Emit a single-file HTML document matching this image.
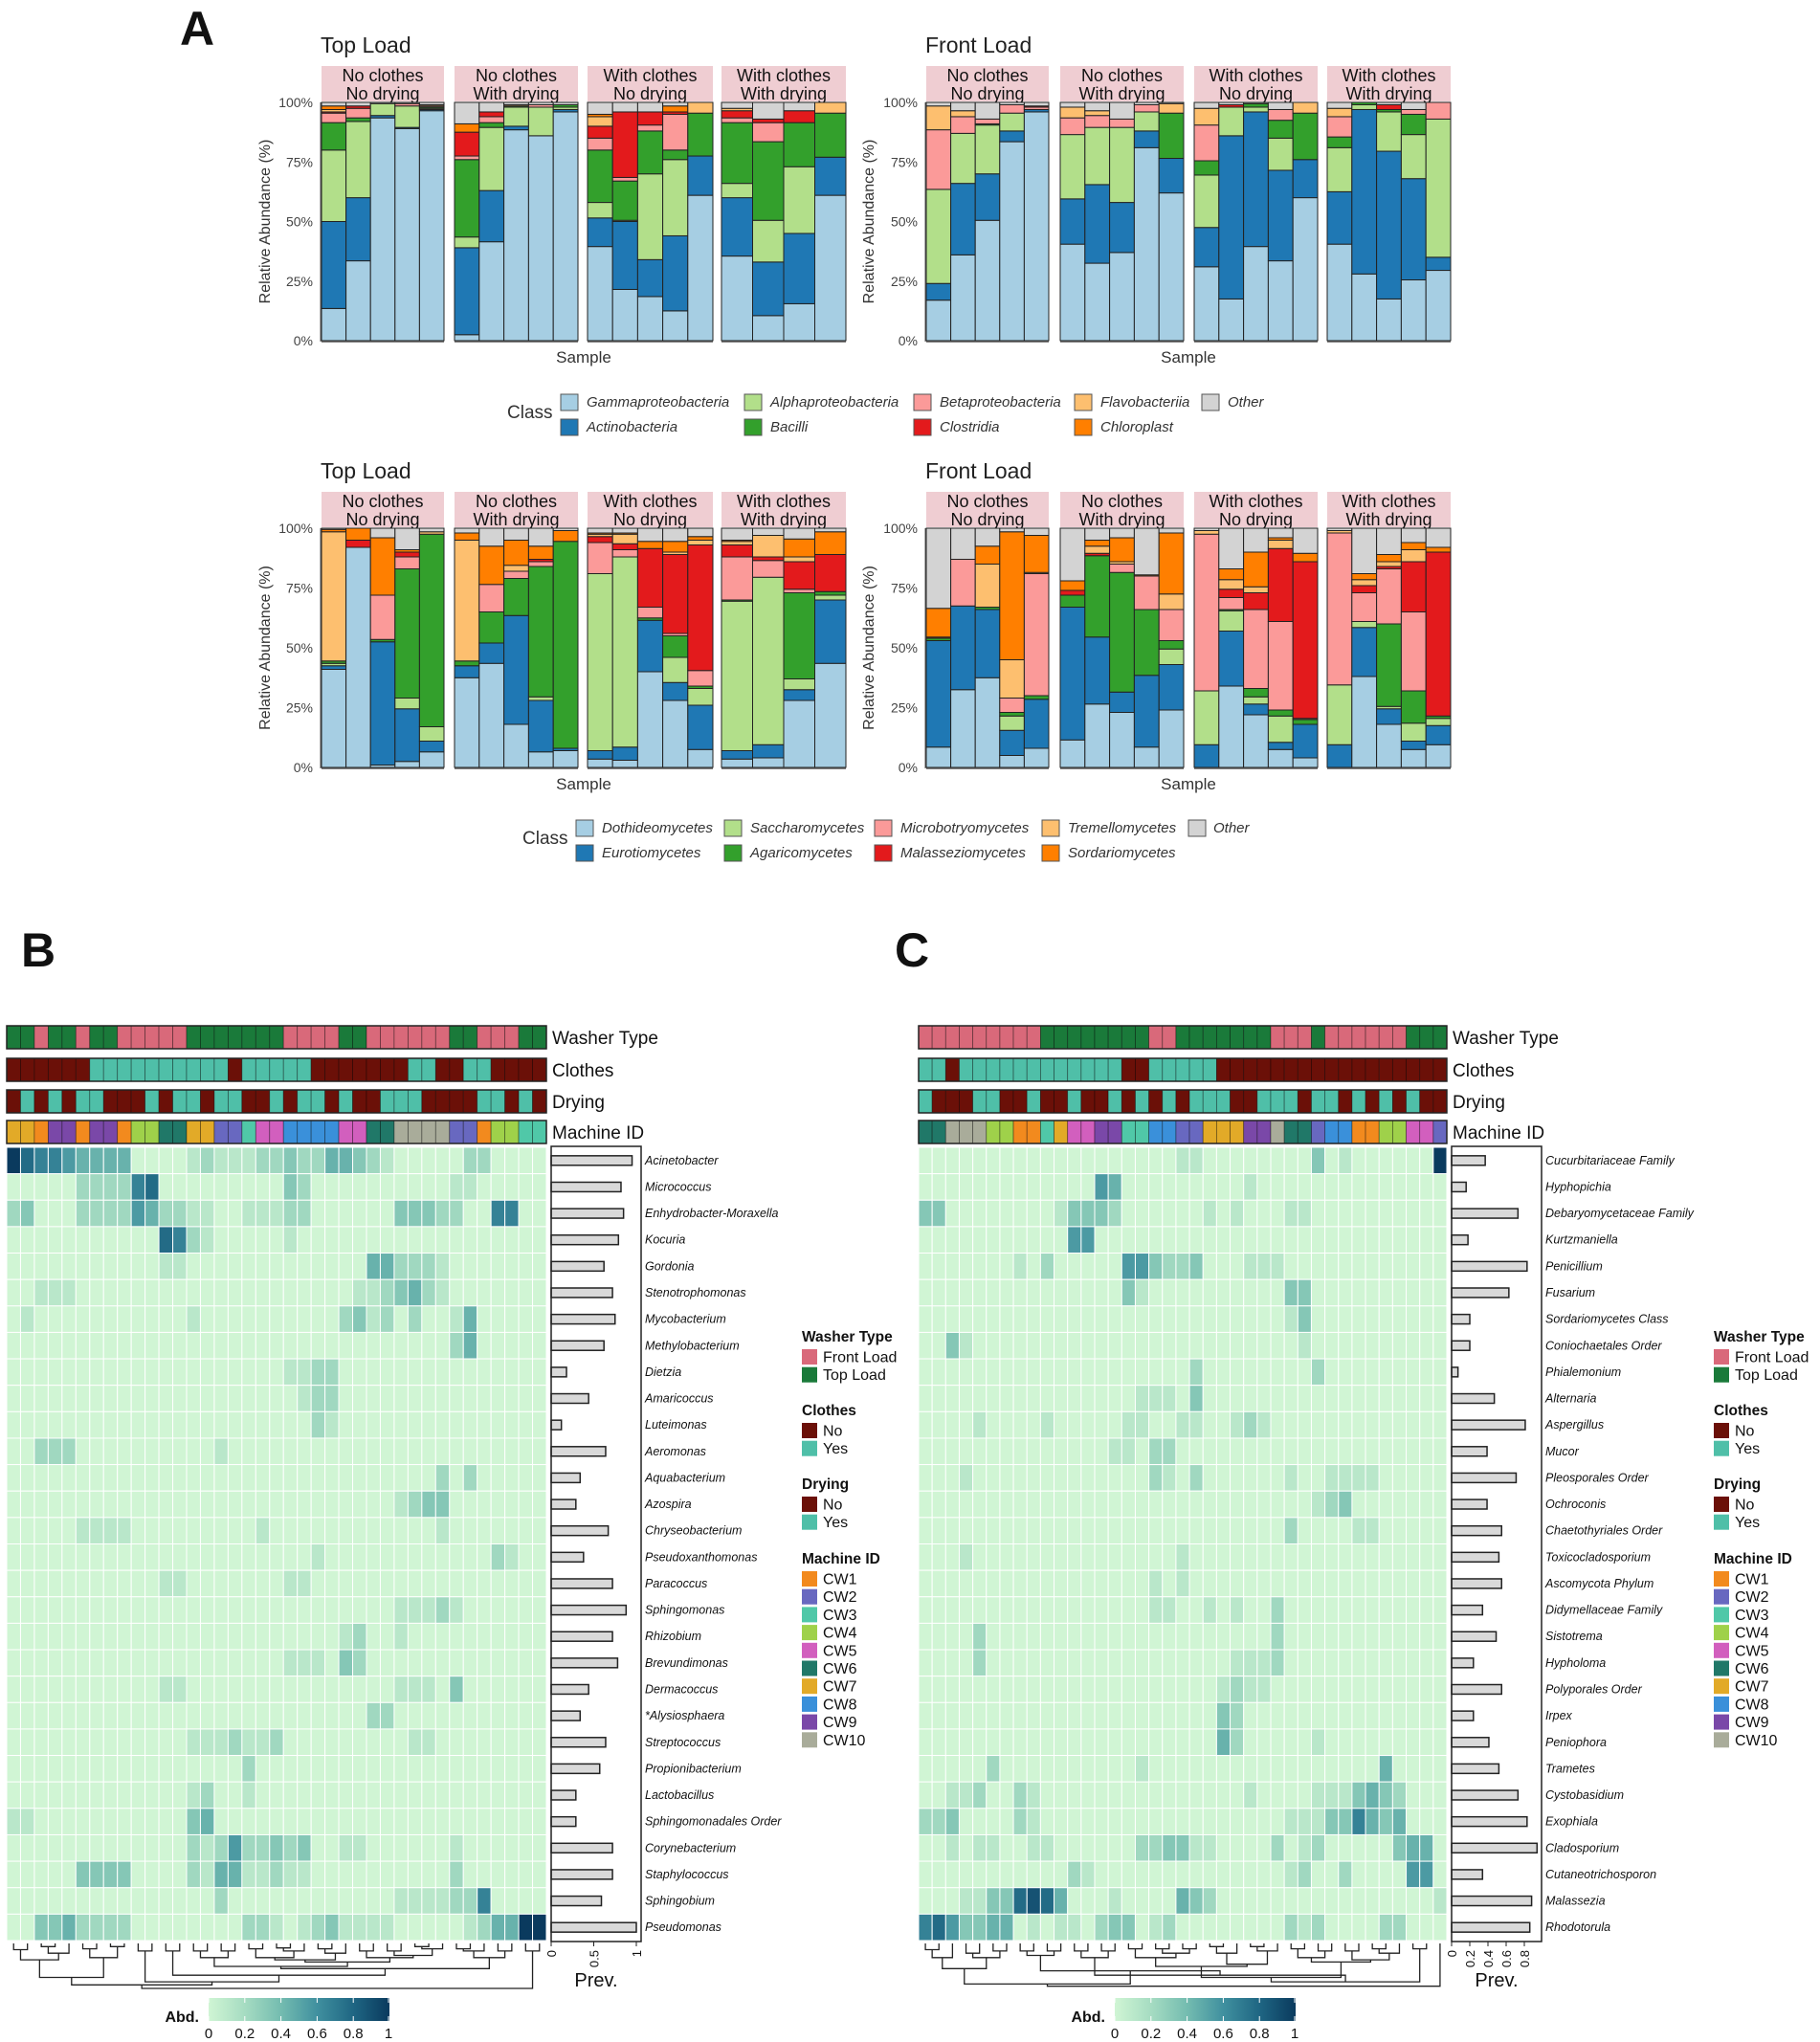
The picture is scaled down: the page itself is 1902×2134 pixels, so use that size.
<!DOCTYPE html>
<html><head><meta charset="utf-8"><style>
html,body{margin:0;padding:0;background:#fff;}
svg{display:block;font-family:"Liberation Sans",sans-serif;}
</style></head><body>
<svg id="fig" width="1902" height="2134" viewBox="0 0 1902 2134" xmlns="http://www.w3.org/2000/svg"></svg>
<script>
// ===== Panel A data (percent per class, bottom->top) =====
const bactClasses = ["Gammaproteobacteria","Actinobacteria","Alphaproteobacteria","Bacilli","Betaproteobacteria","Clostridia","Flavobacteriia","Chloroplast","Other"];
const fungiClasses = ["Dothideomycetes","Eurotiomycetes","Saccharomycetes","Agaricomycetes","Microbotryomycetes","Malasseziomycetes","Tremellomycetes","Sordariomycetes","Other"];
const classColors = ["#a6cee3","#1f78b4","#b2df8a","#33a02c","#fb9a99","#e31a1c","#fdbf6f","#ff7f00","#d3d3d3"];
const facetLabels = [["No clothes","No drying"],["No clothes","With drying"],["With clothes","No drying"],["With clothes","With drying"]];

const bactTop = [
 [[13.5,36.5,30,11.5,4,0.5,1,1.5,1.5],[33.5,26.5,32,1.5,4,1,0,0,1.5],[93.5,1,5,0,0,0,0,0,0.5],[89,0.5,9,0,1,0,0,0,0.5],[96.5,0.5,0.5,0.5,0.5,0,0.5,0,1]],
 [[2.5,36.5,4.5,32.5,1.5,10,0,3.5,9],[41.5,21.5,26.5,2,2.5,2,0,0,4],[88.5,1.5,8,0.5,0,0,0.5,0,1],[86,0,12,0,1,0,0,0,1],[96,1,1,1,0,0,0,0,1]],
 [[39.5,12,6.5,22,5,5,4,1,5],[21.5,28.5,0.5,16.5,1.5,27.5,0,0,4],[18.5,15.5,36,18,2.5,5.5,0,0,4],[12.5,31.5,32,4,15,1,0,2.5,1.5],[61,16.5,0,18,0,0,4.5,0,0]],
 [[35.5,24.5,6,25.5,2,3,1,0,2.5],[10.5,22.5,17.5,33,8,1.5,0,0,7],[15.5,29.5,28,18.5,0,5,0,0,3.5],[61,16,0,18.5,0,0,4.5,0,0]]
];
const bactFront = [
 [[17,7,39.5,0,25,0,10,0,1.5],[36,30,21,0,7,0,2.5,0,3.5],[50.5,19.5,20.5,0.5,2,0,0,0,7],[83.5,4.5,7.5,0,3.5,0,0,0,1],[96,1,0,0,1,0.5,0,0,1.5]],
 [[40.5,19,27,0,7,0,4.5,0,2],[32.5,33,24,0,5,0,2,0,3.5],[37,21,31.5,0,3.5,0,0,0,7],[81,7,8,0,3,0,0,0,1],[62,14.5,0,19,0,0,4,0,0.5]],
 [[31,16.5,22,6,15,0,7,0,2.5],[17.5,68.5,12,0,0,1,0,0,1],[39.5,56.5,2,1.5,0,0,0,0,0.5],[33.5,38,13.5,7.5,4.5,0,0,0,3],[60,16,0,19.5,0,0,4.5,0,0]],
 [[40.5,22,18.5,4.5,8.5,0,3.5,0,2.5],[28,69,2,1,0,0,0,0,0],[17.5,62,16.5,1,0,2,0,0,1],[25.5,42.5,18.5,8.5,2,0,0,0,3],[29.5,5.5,58,0,7,0,0,0,0]]
];
const fungiTop = [
 [[41,1.5,1,1,0,0,54,1,0.5],[92,0,0,0,0,3,0,5,0],[1,51.5,0,1,18.5,0,0,24,4],[2.5,22,4.5,54,5,2,0,1,9],[6.5,4.5,6,80.5,0,0,1,0,1.5]],
 [[37.5,5,0,2,0,0,50.5,3,2],[43.5,8.5,0,13,11.5,0,0,16,7.5],[18,45.5,0,15.5,3,0,2.5,10.5,5],[6.5,21.5,1.5,54.5,2,1,0,5.5,7.5],[7,1,0,86.5,0,0,0,4.5,1]],
 [[3.5,3.5,74,0,13,2.5,1,0.5,2],[3,5.5,79.5,0,3,2.5,4,0.5,2],[40,21.5,0,1,4.5,24.5,0,3,5.5],[28,7.5,10.5,9,1,33,1,4.5,5.5],[7.5,18.5,7,1,6.5,52.5,2,1.5,3.5]],
 [[3.5,3.5,62.5,0.5,18,5,1.5,0.5,5],[4,5.5,70,0,7,1.5,9,0,3],[28,4.5,4.5,36,1.5,11.5,2,7.5,4.5],[43.5,26.5,2,1.5,0,15.5,0,9.5,1.5]]
];
const fungiFront = [
 [[8.5,44.5,0,1,0,0.5,0,12,33.5],[32.5,35,0,0,19.5,0,0,0,13],[37.5,28.5,0,1,0,0,18,7.5,7.5],[5,10.5,6,1.5,6,0,16,53.5,1.5],[8,20.5,0,1.5,51,0,0.5,15.5,3]],
 [[11.5,55.5,0,5,0,2,0,4,22],[26.5,28,0,34,0,1,3,2.5,5],[23,8.5,0,50,3.5,0,1,10,4],[8.5,30,0,27.5,14,0,0,0.5,19.5],[24,19,6.5,3.5,13,0,6.5,25.5,2]],
 [[0,9.5,22.5,0,65.5,0,1.5,0,1],[34,23,8.5,0.5,5,3.5,4,4.5,17],[22,4.5,3,3.5,33,7,2.5,14.5,10],[7.5,3,11,2.5,37,30.5,3.5,1,4],[4,14,0,2,0.5,65.5,0,3.5,10.5]],
 [[0,9.5,25,0,63.5,0,1,0,1],[38,20.5,2.5,0,12,3,2.5,2.5,19],[18,6.5,1,34.5,23,1,2,3,11],[7.5,3.5,7.5,13.5,33,21,5,3,6],[9.5,8,3,1,0,68.5,0,2,8]]
];
const yTicks = [0,25,50,75,100];
const yTickLabels = ["0%","25%","50%","75%","100%"];

// ===== Heatmap B data =====
const bTaxa = ["Acinetobacter","Micrococcus","Enhydrobacter-Moraxella","Kocuria","Gordonia","Stenotrophomonas","Mycobacterium","Methylobacterium","Dietzia","Amaricoccus","Luteimonas","Aeromonas","Aquabacterium","Azospira","Chryseobacterium","Pseudoxanthomonas","Paracoccus","Sphingomonas","Rhizobium","Brevundimonas","Dermacoccus","*Alysiosphaera","Streptococcus","Propionibacterium","Lactobacillus","Sphingomonadales Order","Corynebacterium","Staphylococcus","Sphingobium","Pseudomonas"];
const bPrev = [0.95,0.82,0.85,0.79,0.62,0.72,0.75,0.62,0.18,0.44,0.12,0.64,0.34,0.29,0.67,0.38,0.72,0.88,0.72,0.78,0.44,0.34,0.64,0.57,0.29,0.29,0.72,0.72,0.59,1.0];
// sparse cells "col:level" (level 0-9, 9 = 1.0)
const bCells = [
 "0:9 1:7 2:6 3:6 4:5 5:4 6:4 7:4 8:4 13:1 14:2 15:1 16:1 17:1 18:2 19:2 20:3 21:2 22:2 23:4 24:4 25:3 26:2 27:1 33:2 34:2",
 "5:2 6:2 7:2 8:2 9:6 10:7 20:3 21:2 32:1 33:1",
 "0:2 1:3 5:2 6:2 7:2 8:2 9:5 10:4 11:2 12:2 13:1 14:1 17:1 18:1 19:1 20:2 21:2 28:3 29:3 30:3 31:2 32:2 35:6 36:6",
 "11:7 12:6 13:2 14:1 20:1",
 "11:1 12:1 26:4 27:4 28:2 29:2 30:2 31:1",
 "2:1 3:1 4:1 25:1 26:1 27:2 28:3 29:4 30:2 31:1",
 "1:1 13:1 24:2 25:3 26:1 27:2 29:2 32:1 33:4",
 "32:2 33:4",
 "20:1 21:1 22:2 23:2",
 "21:1 22:2 23:2",
 "22:2 23:1",
 "2:2 3:2 4:2 15:1",
 "31:2 33:2",
 "28:1 29:2 30:3 31:3",
 "5:1 6:1 7:1 8:1 18:1 31:1",
 "22:1 35:2 36:1",
 "11:1 12:1 20:1 21:1",
 "28:1 29:1 30:1 31:2 32:1",
 "24:1 25:2 28:1",
 "20:1 21:1 22:1 24:3 25:2",
 "11:1 12:1 28:1 29:1 30:1 32:3",
 "26:2 27:2",
 "13:1 14:1 15:1 16:2 17:1 18:1 19:2 29:1 30:1",
 "17:2",
 "13:1 14:2 17:1",
 "0:1 1:1 13:3 14:4",
 "13:2 14:1 15:2 16:5 17:2 18:2 19:3 20:2 21:3 24:1 25:1 32:1",
 "5:3 6:3 7:3 8:3 13:2 14:1 15:4 16:4 17:1 18:1 19:2 20:1 21:1 32:2",
 "15:2 28:1 29:1 30:1 31:1 32:2 33:2 34:6",
 "2:3 3:3 4:4 5:2 6:2 7:2 8:2 17:2 18:2 19:1 21:1 22:2 23:3 24:1 25:1 26:1 27:1 33:1 34:2 35:4 36:4 37:9 38:9"
];
const bWasher = "TTFTTFTTFFFFFTTTTTTTFFFFTTFFFFFFTTFFFTT";
const bClothes = "NNNNNNYYYYYYYYYYNYYYYYNNNNNNNYYNNYYNNNN";
const bDrying = "NYNYNYYNNNYNYYNYYNNYNYYNYNNYYYNNNNYYNYN";
const bMachine = [7,7,1,9,9,1,9,9,1,4,4,6,6,7,7,2,2,3,5,5,8,8,8,8,5,5,6,6,10,10,10,10,2,2,1,4,4,3,3];
const bTree = [1,[0.92,[0.75,[0.35,[0.12,0,1],[0.2,[0.05,2,3],4]],[0.3,[0.1,5,6],[0.05,7,8]]],[0.85,[0.15,9,10],[0.7,[0.15,11,12],[0.55,[0.5,[0.3,[0.15,13,14],[0.15,15,16]],[0.4,[0.35,[0.3,[0.1,17,18],[0.15,[0.08,19,20],21]],[0.2,[0.1,22,23],24]],[0.3,[0.15,25,26],[0.25,[0.15,27,28],[0.1,[0.05,29,30],31]]]]],[0.3,[0.15,[0.1,32,33],34],[0.15,35,36]]]]]],[0.15,37,38]];

// ===== Heatmap C data =====
const cTaxa = ["Cucurbitariaceae Family","Hyphopichia","Debaryomycetaceae Family","Kurtzmaniella","Penicillium","Fusarium","Sordariomycetes Class","Coniochaetales Order","Phialemonium","Alternaria","Aspergillus","Mucor","Pleosporales Order","Ochroconis","Chaetothyriales Order","Toxicocladosporium","Ascomycota Phylum","Didymellaceae Family","Sistotrema","Hypholoma","Polyporales Order","Irpex","Peniophora","Trametes","Cystobasidium","Exophiala","Cladosporium","Cutaneotrichosporon","Malassezia","Rhodotorula"];
const cPrev = [0.37,0.16,0.73,0.18,0.83,0.63,0.2,0.2,0.07,0.47,0.81,0.39,0.71,0.39,0.55,0.52,0.55,0.34,0.49,0.24,0.55,0.24,0.41,0.52,0.73,0.83,0.94,0.34,0.88,0.86];
const cCells = [
 "19:1 20:1 29:3 31:1 38:9",
 "13:5 14:4 24:1",
 "0:3 1:3 10:1 11:3 12:3 13:3 14:2 21:1 23:1 27:1 28:1",
 "11:5 12:5",
 "7:1 9:2 15:5 16:5 17:3 18:2 19:2 20:3 24:1 25:1 26:1",
 "15:3 16:1 27:3 28:3",
 "27:1 28:3",
 "2:3 3:1 28:1",
 "20:2 29:2",
 "16:1 17:1 18:1 20:3",
 "4:1 9:1 15:1 16:1 19:1 20:1 23:1 24:2 25:1",
 "14:1 15:1 17:2 18:2",
 "3:1 17:2 18:1 20:2 27:1 30:1 31:1 32:1 33:1",
 "29:1 30:2 31:3",
 "27:2 32:1 33:1",
 "3:1 19:1",
 "17:1 19:1",
 "17:1 18:1 21:1 23:1 26:2",
 "4:2 26:2",
 "4:2 23:1 24:1 25:1 26:2",
 "22:1 23:2 24:1 25:1",
 "22:3 23:2",
 "22:4 23:2 29:1",
 "5:2 16:1 34:4",
 "2:1 3:1 4:2 7:2 8:1 24:1 29:1 30:1 31:1 32:3 33:4 34:3 35:2",
 "0:2 1:2 2:3 7:2 8:1 27:1 28:1 29:1 30:3 31:3 32:6 33:4 34:3 35:4",
 "2:1 4:1 5:1 8:1 9:1 16:2 17:2 18:3 19:3 20:1 21:1 26:2 28:1 29:2 35:3 36:4 37:4",
 "11:2 12:1 27:1 28:2 31:2 36:5 37:5",
 "3:1 4:1 5:3 6:3 7:7 8:8 9:7 10:4 14:1 19:4 20:3 21:2 38:1",
 "0:6 1:7 2:5 3:3 4:3 5:4 6:4 8:1 10:1 11:1 13:2 14:3 15:3 17:1 18:2 27:2 28:1 29:2 34:2 35:2"
];
const cWasher = "FFFFFFFFFTTTTTTTTFFTTTTTTTFFFTFFFFFFTTT";
const cClothes = "YYNYYYYYYYYYYYYNNYYYYYNNNNNNNNNNNNNNNNN";
const cDrying = "YNNNYYNNYNNYNNYNYNYNYYYNNYYYNYYNYNYNYNN";
const cMachine = [6,6,10,10,10,4,4,1,1,3,7,5,5,9,9,3,3,8,8,2,2,7,7,7,9,9,10,6,6,2,8,8,1,1,4,4,5,5,2];
const cTree = [1,[0.95,[0.9,[0.55,[0.3,[0.12,0,1],2],[0.3,[0.2,3,4],[0.15,5,6]]],[0.6,[0.25,[0.15,7,8],[0.15,9,10]],[0.7,[0.3,[0.15,11,12],[0.15,13,14]],[0.85,[0.75,[0.5,[0.3,[0.1,15,16],[0.2,[0.1,17,18],[0.1,19,20]]],[0.45,[0.2,[0.05,21,22],23],[0.15,[0.05,24,25],26]]],[0.4,[0.3,[0.1,27,28],[0.15,29,30]],[0.35,[0.15,31,32],[0.2,[0.1,33,34],35]]]],[0.1,36,37]]]]],38],0];

const machineColors = ["","#f28a1e","#6868c0","#50c8a8","#9fd14a","#d25fbe","#207868","#e2aa28","#3a90da","#7a48a8","#a9ac9a"];
const washerColors = {F:"#d9697a",T:"#1a7a3a"};
const ynColors = {N:"#6b1008",Y:"#4fbfa8"};
const abdStops = [[0,[208,245,212]],[0.2,[166,220,194]],[0.4,[116,188,176]],[0.6,[64,144,159]],[0.8,[31,102,131]],[1,[10,58,94]]];
const abdTicks = [0,0.2,0.4,0.6,0.8,1];
const abdTickLabels = ["0","0.2","0.4","0.6","0.8","1"];

const NS = "http://www.w3.org/2000/svg";
const svg = document.getElementById("fig");
function mk(tag, attrs, parent){const e=document.createElementNS(NS,tag);for(const k in attrs)e.setAttribute(k,attrs[k]);(parent||svg).appendChild(e);return e;}
function txt(str,x,y,size,opts,parent){opts=opts||{};const e=mk("text",{x:x,y:y,"font-size":size,fill:opts.fill||"#111","text-anchor":opts.anchor||"start"},parent);
 if(opts.italic)e.setAttribute("font-style","italic");if(opts.bold)e.setAttribute("font-weight","bold");if(opts.rot)e.setAttribute("transform","rotate("+opts.rot+" "+x+" "+y+")");e.textContent=str;return e;}

// ---------- Panel A ----------
function letter(s,x,y){const t=txt(s,x,y,50,{bold:true});}
letter("A",188,47);letter("B",22,1010);letter("C",935,1010);

function stackPanel(data,facetsX,stripTop,y100,y0,title,name,yTitleX){
 const g=mk("g",{});
 
 
 const t=txt(title,facetsX[0][0]-1,stripTop-14,23,{fill:"#222"},g);
 
 
 const ys=v=>y0-v/100*(y0-y100);
 facetsX.forEach((fx,fi)=>{
  const strip=mk("rect",{x:fx[0],y:stripTop,width:fx[1]-fx[0],height:y100-stripTop-1,fill:"#efcdd2"},g);
  
  
  const cx=(fx[0]+fx[1])/2;
  const l1=txt(facetLabels[fi][0],cx,stripTop+16,18,{anchor:"middle"},g);
  
  
  const l2=txt(facetLabels[fi][1],cx,stripTop+35,18,{anchor:"middle"},g);
  
  
  const bars=data[fi];const bw=(fx[1]-fx[0])/bars.length;
  bars.forEach((vals,bi)=>{
   let cum=0;
   vals.forEach((v,ci)=>{ if(v<=0)return;
    const r=mk("rect",{x:fx[0]+bi*bw,y:ys(cum+v),width:bw,height:ys(cum)-ys(cum+v),fill:classColors[ci],stroke:"#222","stroke-width":1},g);
    
    
    cum+=v;});
  });
  mk("line",{x1:fx[0],x2:fx[1],y1:y0+1,y2:y0+1,stroke:"#555","stroke-width":1.5},g);
 });
 yTicks.forEach((v,i)=>{
  const tl=txt(yTickLabels[i],facetsX[0][0]-9,ys(v)+5,14,{anchor:"end",fill:"#444"},g);
  
  
 });
 mk("line",{x1:facetsX[0][0]-1,x2:facetsX[0][0]-1,y1:y100,y2:y0+1,stroke:"#555","stroke-width":1},g);
 const yt=txt("Relative Abundance (%)",yTitleX,(y0+y100)/2,16,{anchor:"middle",rot:-90,fill:"#333"},g);
 
 
 const xt=txt("Sample",(facetsX[0][0]+facetsX[3][1])/2,y0+23,17,{anchor:"middle",fill:"#333"},g);
 
 
}
const topFacets=[[336,464],[475,604],[614,745],[754,884]];
const frontFacets=[[968,1096],[1108,1237],[1248,1377],[1387,1516]];
stackPanel(bactTop,topFacets,69,107,356,"Top Load","bacteria-top-load-chart",282);
stackPanel(bactFront,frontFacets,69,107,356,"Front Load","bacteria-front-load-chart",913);
stackPanel(fungiTop,topFacets,514,552,802,"Top Load","fungi-top-load-chart",282);
stackPanel(fungiFront,frontFacets,514,552,802,"Front Load","fungi-front-load-chart",913);

function classLegend(classes,classX,rowY,cols,name){
 const g=mk("g",{});
 
 
 const ct=txt("Class",classX,rowY[0]+25,19,{fill:"#333"},g);
 
 
 classes.forEach((c,i)=>{
  const col=Math.floor(i/2),row=i%2;
  const sw=mk("rect",{x:cols[col][0],y:rowY[row],width:18,height:17,fill:classColors[i],stroke:"#555","stroke-width":1},g);
  
  
  const lt=txt(c,cols[col][1],rowY[row]+13,15,{italic:true,fill:"#333"},g);
  
  
 });
}
classLegend(bactClasses,530,[412,438],[[586,613],[778,805],[955,982],[1123,1150],[1256,1283]],"bacteria-class-legend");
classLegend(fungiClasses,546,[857,883],[[602,629],[757,784],[914,941],[1089,1116],[1242,1268]],"fungi-class-legend");

// ---------- Heatmaps ----------
function abdColor(v){v=Math.max(0,Math.min(1,v));for(let i=1;i<abdStops.length;i++){if(v<=abdStops[i][0]){const a=abdStops[i-1],b=abdStops[i],t=(v-a[0])/(b[0]-a[0]);return "rgb("+a[1].map((c,k)=>Math.round(c+(b[1][k]-c)*t)).join(",")+")";}}return "rgb(10,58,94)";}

function heatmap(cfg){
 const {x0,x1,y0,y1,taxa,prev,cells,washer,clothes,drying,machine,tree,prevX0,prevUnit,prevBoxR,labX,prevTicks,prevTickLabels,name,legX,cbX0,cbX1}=cfg;
 const g=mk("g",{});
 
 
 const n=machine.length,cw=(x1-x0)/n,rh=(y1-y0)/taxa.length;
 const xs=i=>x0+i*cw;
 // annotation bars
 const annos=[["Washer Type",1072,washer.split("").map(c=>washerColors[c]),"washer-type-annotation"],["Clothes",1106,clothes.split("").map(c=>ynColors[c]),"clothes-annotation"],["Drying",1139,drying.split("").map(c=>ynColors[c]),"drying-annotation"],["Machine ID",1171,machine.map(m=>machineColors[m]),"machine-id-annotation"]];
 annos.forEach(a=>{
  const ag=mk("g",{},g);
  
  
  a[2].forEach((col,i)=>{const r=mk("rect",{x:xs(i),y:a[1],width:cw,height:24,fill:col,stroke:"rgba(0,0,0,0.45)","stroke-width":0.8},ag);
   
   });
  mk("rect",{x:x0,y:a[1],width:x1-x0,height:24,fill:"none",stroke:"#222","stroke-width":1.5},ag);
  const lt=txt(a[0],x0+(x1-x0)+6,a[1]+19,19,{fill:"#111"},ag);
  
  
 });
 // cells
 taxa.forEach((t,r)=>{
  const vals=new Array(n).fill(0);
  cells[r].split(" ").forEach(p=>{if(!p)return;const q=p.split(":");vals[+q[0]]=(+q[1])/9;});
  vals.forEach((v,i)=>{
   const c=mk("rect",{x:xs(i),y:y0+r*rh,width:cw,height:rh,fill:abdColor(v),stroke:"#ffffff","stroke-width":1},g);
   
   
  });
  const pb=mk("rect",{x:prevX0,y:y0+r*rh+rh*0.32,width:prev[r]*prevUnit,height:rh*0.36,fill:"#d9d9d9",stroke:"#222","stroke-width":1.5},g);
  
  
  const lb=txt(t,labX,y0+r*rh+rh/2+4,12.5,{italic:true},g);
  
  
 });
 const pbox=mk("rect",{x:prevX0,y:y0-1,width:prevBoxR-prevX0,height:y1-y0+2,fill:"none",stroke:"#222","stroke-width":1.5},g);
 
 
 prevTicks.forEach((v,i)=>{const x=prevX0+v*prevUnit;
  mk("line",{x1:x,x2:x,y1:y1+1,y2:y1+6,stroke:"#222","stroke-width":1},g);
  const tl=txt(prevTickLabels[i],x+5,y1+10,13,{anchor:"end",rot:-90},g);
  
  });
 const pt=txt("Prev.",prevX0+(prevBoxR-prevX0)/2,y1+48,20,{anchor:"middle"},g);
 
 
 // dendrogram
 const dg=mk("g",{},g);
 
 
 const yh=h=>y1+4+h*46;
 function draw(node){ if(typeof node==="number") return [xs(node)+cw/2,y1+3];
  const a=draw(node[1]),b=node[2]===0?null:draw(node[2]);
  if(!b)return a;
  const y=yh(node[0]);
  mk("path",{d:"M"+a[0]+","+a[1]+"V"+y+"H"+b[0]+"V"+b[1],fill:"none",stroke:"#222","stroke-width":1.3},dg);
  return [(a[0]+b[0])/2,y];}
 draw(tree);
 // colour bar
 const cb=mk("g",{},g);
 
 
 const grad=mk("linearGradient",{id:name+"-grad",x1:"0",x2:"1",y1:"0",y2:"0"},cb);
 abdStops.forEach(s=>mk("stop",{offset:s[0],"stop-color":"rgb("+s[1].join(",")+")"},grad));
 mk("rect",{x:cbX0,y:2088,width:cbX1-cbX0,height:24,fill:"url(#"+name+"-grad)"},cb);
 abdTicks.forEach((v,i)=>{const x=cbX0+v*(cbX1-cbX0)-(i===abdTicks.length-1?1:0);
  mk("line",{x1:x,x2:x,y1:2088,y2:2093,stroke:"#fff","stroke-width":1},cb);
  mk("line",{x1:x,x2:x,y1:2107,y2:2112,stroke:"#fff","stroke-width":1},cb);
  const tl=txt(abdTickLabels[i],x,2130,15,{anchor:"middle"},cb);
  
  });
 const ab=txt("Abd.",cbX0-10,2113,16,{anchor:"end",bold:true},cb);
 
 
 // legends
 const lg=mk("g",{},g);
 
 
 const groups=[["Washer Type",1402,[["Front Load",washerColors.F],["Top Load",washerColors.T]]],["Clothes",1479,[["No",ynColors.N],["Yes",ynColors.Y]]],["Drying",1556,[["No",ynColors.N],["Yes",ynColors.Y]]],["Machine ID",1634,machineColors.slice(1).map((c,i)=>["CW"+(i+1),c])]];
 groups.forEach(gr=>{
  const tt=txt(gr[0],legX,gr[1],15.5,{bold:true},lg);
  
  
  gr[2].forEach((it,i)=>{const y=gr[1]+8+i*18.7;
   const sw=mk("rect",{x:legX,y:y,width:16,height:16,fill:it[1]},lg);
   
   
   const lt=txt(it[0],legX+22,y+13.5,16,{},lg);
   
   });
 });
}
heatmap({x0:7,x1:571,y0:1199,y1:2028,taxa:bTaxa,prev:bPrev,cells:bCells,washer:bWasher,clothes:bClothes,drying:bDrying,machine:bMachine,tree:bTree,prevX0:576,prevUnit:89,prevBoxR:670,labX:674,prevTicks:[0,0.5,1],prevTickLabels:["0","0.5","1"],name:"bacteria-heatmap",legX:838,cbX0:218,cbX1:407});
heatmap({x0:960,x1:1512,y0:1199,y1:2028,taxa:cTaxa,prev:cPrev,cells:cCells,washer:cWasher,clothes:cClothes,drying:cDrying,machine:cMachine,tree:cTree,prevX0:1517,prevUnit:95,prevBoxR:1611,labX:1615,prevTicks:[0,0.2,0.4,0.6,0.8],prevTickLabels:["0","0.2","0.4","0.6","0.8"],name:"fungi-heatmap",legX:1791,cbX0:1165,cbX1:1354});
</script>
</body></html>
